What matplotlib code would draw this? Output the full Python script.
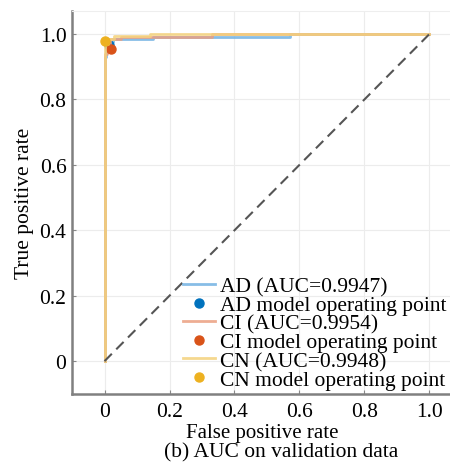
import matplotlib
matplotlib.use("Agg")
import matplotlib.pyplot as plt

plt.rcParams["font.family"] = ["Liberation Serif", "DejaVu Serif"]

# ---- curvas ROC (pontos de degrau) por classe ----
CLASSES = ["AD", "CI", "CN"]
AUC = [0.9947, 0.9954, 0.9948]

fpr_ad = [0, 0, 0.006, 0.006, 0.012, 0.012, 0.025, 0.025, 0.15, 0.15, 0.57, 0.57, 1.0]
tpr_ad = [0, 0.93, 0.93, 0.955, 0.955, 0.975, 0.975, 0.985, 0.985, 0.99, 0.99, 1.0, 1.0]

fpr_ci = [0, 0, 0.008, 0.008, 0.018, 0.018, 0.05, 0.05, 0.33, 0.33, 1.0]
tpr_ci = [0, 0.94, 0.94, 0.96, 0.96, 0.985, 0.985, 0.99, 0.99, 1.0, 1.0]

fpr_cn = [0, 0, 0.01, 0.01, 0.03, 0.03, 0.14, 0.14, 1.0]
tpr_cn = [0, 0.97, 0.97, 0.985, 0.985, 0.995, 0.995, 1.0, 1.0]

# ponto de operacao do modelo (fpr, tpr)
op_fpr = [0.015, 0.02, 0.0]
op_tpr = [0.965, 0.955, 0.98]

CORES = ["#0072BD", "#D95319", "#EDB120"]
CORES_LINHA = ["#72b2e2", "#eb9f80", "#f4d27c"]
TICKS = [0, 0.2, 0.4, 0.6, 0.8, 1.0]
TICK_LABELS = ["0", "0.2", "0.4", "0.6", "0.8", "1.0"]
FS = 15.5

fig = plt.figure(figsize=(4.5, 4.64), dpi=100)
ax = fig.add_axes([0.16, 0.149, 0.845, 0.825])

curvas = [(fpr_ad, tpr_ad), (fpr_ci, tpr_ci), (fpr_cn, tpr_cn)]
for nome, auc, (x, y), ox, oy, cor, cl in zip(CLASSES, AUC, curvas, op_fpr,
                                              op_tpr, CORES, CORES_LINHA):
    ax.plot(x, y, color=cl, lw=2, alpha=0.85, label=f"{nome} (AUC={auc:.4f})")
    ax.plot(ox, oy, "o", color=cor, ms=6.5, label=f"{nome} model operating point")

ax.plot([0, 1], [0, 1], ls=(0, (5, 3)), color="#555555", lw=1.5)

ax.set_xlim(-0.1, 1.07)
ax.set_ylim(-0.1, 1.07)
ax.set_xticks(TICKS)
ax.set_xticklabels(TICK_LABELS)
ax.set_yticks(TICKS)
ax.set_yticklabels(TICK_LABELS)
ax.tick_params(direction="in", length=3, color="#888888", labelsize=FS, pad=4)
ax.tick_params(axis="x", pad=6)
ax.grid(color="#ececec", lw=0.8)
ax.set_axisbelow(True)

for lado in ("left", "bottom"):
    ax.spines[lado].set_color("#808080")
    ax.spines[lado].set_linewidth(1.8)
for lado in ("top", "right"):
    ax.spines[lado].set_color("#eeeeee")
    ax.spines[lado].set_linewidth(0.8)

ax.set_xlabel("False positive rate", fontsize=15, labelpad=1)
ax.set_ylabel("True positive rate", fontsize=FS, labelpad=4)
fig.text(0.625, 1 - 453 / 464, "(b) AUC on validation data", fontsize=FS,
         ha="center", va="center")

ax.legend(loc="lower right", bbox_to_anchor=(0.995, 0.0), frameon=False,
          fontsize=FS, handlelength=1.5, handletextpad=0.2, labelspacing=-0.07,
          borderaxespad=0.2, borderpad=0.0)

fig.savefig("out.png", dpi=100)
